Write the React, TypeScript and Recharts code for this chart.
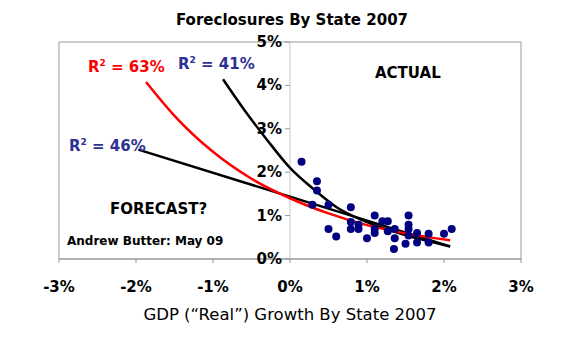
import {
  ComposedChart,
  Scatter,
  Line,
  XAxis,
  YAxis,
  ReferenceLine,
  ReferenceArea,
} from "recharts";

// GDP growth (%) vs foreclosure rate (%) by state
const gdpGrowth = [
  0.15, 0.35, 0.35, 0.29, 0.5, 0.79, 0.79, 0.79, 0.89, 0.5, 0.6, 1.0, 1.1, 1.1,
  1.1, 1.2, 1.27, 1.27, 1.36, 1.36, 1.35, 1.54, 1.54, 1.54, 1.54, 1.5, 1.65,
  1.65, 1.8, 1.8, 2.0, 2.1, 0.89,
];
const foreclosures = [
  2.24, 1.79, 1.58, 1.25, 1.25, 1.19, 0.85, 0.69, 0.69, 0.69, 0.52, 0.48, 1.0,
  0.6, 0.69, 0.87, 0.87, 0.64, 0.69, 0.48, 0.23, 1.0, 0.79, 0.69, 0.54, 0.35,
  0.6, 0.38, 0.58, 0.38, 0.58, 0.69, 0.79,
];

// trend lines
const redX = [-1.87, -1.5, -1.0, -0.5, 0, 0.5, 1.0, 1.5, 2.08];
const redY = [4.08, 3.3, 2.47, 1.85, 1.4, 1.05, 0.78, 0.59, 0.43];
const steepX = [-0.87, -0.6, -0.3, 0, 0.3, 0.6, 1.0, 1.5, 2.08];
const steepY = [4.14, 3.45, 2.75, 2.1, 1.62, 1.2, 0.85, 0.55, 0.29];
const flatX = [-1.97, 2.08];
const flatY = [2.52, 0.29];

const xTicks = [-3, -2, -1, 0, 1, 2, 3];
const yTicks = [0, 1, 2, 3, 4, 5];

const points = gdpGrowth.map((x, i) => ({ x, y: foreclosures[i] }));
const zip = (xs: number[], ys: number[]) => xs.map((x, i) => ({ x, y: ys[i] }));
const redLine = zip(redX, redY);
const steepLine = zip(steepX, steepY);
const flatLine = zip(flatX, flatY);
const yTickPts = yTicks.map((t) => ({ x: 0, y: t }));

const FONT = "'DejaVu Sans', sans-serif";
const NAVY = "#000080";
const LABEL_BLUE = "#2e3192";

function Dot(props: any) {
  return <circle cx={props.cx} cy={props.cy} r={4} fill={NAVY} />;
}

function YTick(props: any) {
  const { cx, cy, payload } = props;
  return (
    <g>
      <line x1={cx - 5} y1={cy} x2={cx} y2={cy} stroke="#999" />
      <text
        x={cx - 8}
        y={cy}
        textAnchor="end"
        dominantBaseline="central"
        fontFamily={FONT}
        fontWeight="bold"
        fontSize={15}
        fill="#000"
      >
        {payload.y}%
      </text>
    </g>
  );
}

function Note({
  left,
  top,
  color = "#000",
  size = 15,
  children,
}: {
  left: number;
  top: number;
  color?: string;
  size?: number;
  children: any;
}) {
  return (
    <div
      style={{
        position: "absolute",
        left,
        top,
        transform: "translateY(-50%)",
        color,
        fontSize: size,
        fontFamily: FONT,
        fontWeight: "bold",
        whiteSpace: "nowrap",
        lineHeight: 1,
      }}
    >
      {children}
    </div>
  );
}

export default function App() {
  return (
    <div
      style={{
        position: "absolute",
        left: 0,
        top: 0,
        width: 576,
        height: 357,
        background: "#fff",
      }}
    >
      <ComposedChart
        width={576}
        height={357}
        margin={{ top: 42, right: 55, bottom: 58, left: 59 }}
      >
        <XAxis
          type="number"
          dataKey="x"
          domain={[-3, 3]}
          ticks={xTicks}
          tickFormatter={(v) => `${v}%`}
          stroke="#999"
          tickSize={4}
          tickMargin={18}
          height={40}
          tick={{ fill: "#000", fontSize: 15, fontWeight: "bold", fontFamily: FONT }}
          label={{
            value: "GDP (\u201CReal\u201D) Growth By State 2007",
            position: "insideBottom",
            offset: -21,
            fill: "#000",
            fontSize: 16.5,
            fontFamily: FONT,
          }}
        />
        <YAxis type="number" dataKey="y" domain={[0, 5]} hide />
        <ReferenceArea
          x1={-3}
          x2={3}
          y1={0}
          y2={5}
          fill="none"
          stroke="#999"
          ifOverflow="visible"
        />
        <ReferenceLine x={0} stroke="#c8c8c8" />
        <Scatter
          data={yTickPts}
          shape={<YTick />}
          isAnimationActive={false}
        />
        <Scatter data={points} shape={<Dot />} isAnimationActive={false} />
        <Line
          data={flatLine}
          dataKey="y"
          type="linear"
          stroke="#000"
          strokeWidth={2.5}
          dot={false}
          isAnimationActive={false}
        />
        <Line
          data={steepLine}
          dataKey="y"
          type="monotone"
          stroke="#000"
          strokeWidth={2.5}
          dot={false}
          isAnimationActive={false}
        />
        <Line
          data={redLine}
          dataKey="y"
          type="monotone"
          stroke="#ff0000"
          strokeWidth={2.5}
          dot={false}
          isAnimationActive={false}
        />
      </ComposedChart>

      <div
        style={{
          position: "absolute",
          left: 0,
          width: 584,
          top: 20,
          transform: "translateY(-50%)",
          textAlign: "center",
          fontFamily: FONT,
          fontWeight: "bold",
          fontSize: 15,
          lineHeight: 1,
        }}
      >
        Foreclosures By State 2007
      </div>
      <Note left={88} top={67} color="#ff0000">
        R<sup style={{ fontSize: 9 }}>2</sup> = 63%
      </Note>
      <Note left={178} top={64} color={LABEL_BLUE}>
        R<sup style={{ fontSize: 9 }}>2</sup> = 41%
      </Note>
      <Note left={69} top={146} color={LABEL_BLUE}>
        R<sup style={{ fontSize: 9 }}>2</sup> = 46%
      </Note>
      <Note left={375} top={73}>
        ACTUAL
      </Note>
      <Note left={110} top={209}>
        FORECAST?
      </Note>
      <Note left={67} top={241} size={12}>
        Andrew Butter: May 09
      </Note>
    </div>
  );
}
